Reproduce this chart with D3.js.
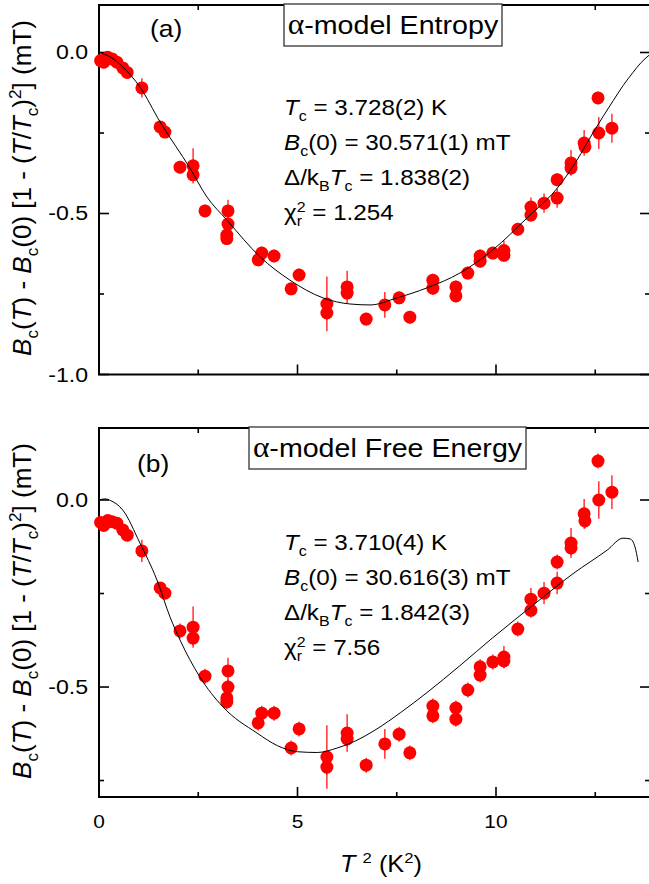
<!DOCTYPE html>
<html>
<head>
<meta charset="utf-8">
<script src="https://cdn.jsdelivr.net/npm/d3@7/dist/d3.min.js"></script>
<style>
  html, body { margin: 0; padding: 0; background: #fff; }
  svg { display: block; font-family: "Liberation Sans", Arial, sans-serif; }
</style>
</head>
<body>
<svg id="chart" width="649" height="884"></svg>
<script>
// Temperature squared (K^2) for each measurement
const T2 = [0.04, 0.12, 0.22, 0.33, 0.45, 0.60, 0.71, 1.08, 1.54, 1.66, 2.04, 2.37, 2.37, 2.67,
  3.25, 3.25, 3.22, 3.22, 4.01, 4.10, 4.41, 4.84, 5.04, 5.74, 5.74, 6.25, 6.25, 6.73, 7.20, 7.56,
  7.83, 8.41, 8.41, 8.99, 8.99, 9.29, 9.60, 9.60, 9.92, 10.20, 10.20, 10.55, 10.88, 10.88, 11.21,
  11.54, 11.54, 11.89, 11.89, 12.22, 12.24, 12.57, 12.59, 12.92];

// Deviation from parabolic law (mT), alpha-model entropy normalisation
const devEntropy = [-0.025, -0.030, -0.015, -0.020, -0.030, -0.048, -0.062, -0.110, -0.231, -0.247,
  -0.356, -0.352, -0.380, -0.492, -0.492, -0.533, -0.567, -0.578, -0.644, -0.623, -0.632, -0.734,
  -0.691, -0.781, -0.809, -0.728, -0.747, -0.828, -0.784, -0.762, -0.822, -0.707, -0.732, -0.728,
  -0.756, -0.685, -0.632, -0.648, -0.623, -0.615, -0.630, -0.549, -0.480, -0.505, -0.468, -0.452,
  -0.395, -0.343, -0.359, -0.281, -0.293, -0.141, -0.250, -0.235];

// Deviation from parabolic law (mT), alpha-model free-energy normalisation
const devFree = [-0.060, -0.068, -0.055, -0.058, -0.062, -0.080, -0.094, -0.136, -0.235, -0.249,
  -0.350, -0.340, -0.369, -0.471, -0.457, -0.500, -0.529, -0.540, -0.596, -0.570, -0.570, -0.663,
  -0.612, -0.687, -0.714, -0.623, -0.639, -0.709, -0.652, -0.626, -0.676, -0.551, -0.577, -0.556,
  -0.586, -0.508, -0.446, -0.468, -0.433, -0.420, -0.430, -0.345, -0.265, -0.295, -0.249, -0.222,
  -0.166, -0.115, -0.128, -0.037, -0.056, 0.104, 0.000, 0.021];

// Uncertainty of each point (mT)
const errDev = [0.015, 0.015, 0.015, 0.015, 0.015, 0.015, 0.015, 0.030, 0.015, 0.015,
  0.020, 0.055, 0.020, 0.020, 0.035, 0.020, 0.020, 0.020, 0.020, 0.020, 0.020, 0.020,
  0.020, 0.085, 0.020, 0.050, 0.020, 0.020, 0.040, 0.020, 0.020, 0.020, 0.020, 0.020,
  0.020, 0.020, 0.020, 0.020, 0.020, 0.030, 0.020, 0.020, 0.030, 0.020, 0.030, 0.030,
  0.020, 0.040, 0.020, 0.040, 0.020, 0.020, 0.050, 0.045];

// Fitted alpha-model curves
const fitEntropyX = [0, 0.3, 0.6, 1.03, 1.54, 2.29, 2.72, 3.22, 4.06, 4.81, 5.64, 6.32, 6.83,
  7.51, 8.26, 9.09, 9.92, 10.78, 11.61, 12.04, 12.44, 12.95, 13.2, 13.45, 13.65, 13.86];
const fitEntropyY = [0, -0.015, -0.045, -0.107, -0.216, -0.359, -0.449, -0.520, -0.635, -0.707,
  -0.762, -0.781, -0.784, -0.762, -0.731, -0.685, -0.613, -0.514, -0.411, -0.334, -0.250, -0.150,
  -0.103, -0.062, -0.032, -0.008];

const fitFreeX = [0, 0.15, 0.3, 0.6, 1.03, 1.46, 1.79, 2.04, 2.54, 3.12, 3.98, 4.5, 5.0, 5.5,
  6.0, 6.5, 7.0, 7.6, 8.26, 9.09, 9.92, 10.5, 11.11, 11.94, 12.8, 13.2, 13.38, 13.5, 13.58];
const fitFreeY = [0, 0.003, -0.002, -0.027, -0.115, -0.214, -0.313, -0.374, -0.473, -0.553,
  -0.623, -0.657, -0.673, -0.675, -0.663, -0.642, -0.612, -0.568, -0.515, -0.443, -0.368, -0.318,
  -0.266, -0.197, -0.134, -0.102, -0.104, -0.125, -0.166];

const xTicksMajor = [0, 5, 10];
const xTicksMinor = [2.5, 7.5, 12.5];

const svg = d3.select("#chart");
const RED = "#ff0000";
const SX = 1.1;   // horizontal glyph stretch of the lettering
const SERIF = "'Liberation Serif', 'Times New Roman', serif";

// Plain text, slightly widened around its anchor point
function stext(parent, x, y, str, size, anchor) {
  const g = parent.append("g").attr("transform", `translate(${x},${y}) scale(${SX},1)`);
  g.append("text").attr("font-size", size).attr("text-anchor", anchor || "start").text(str);
  return g;
}

// Lay out a line of mixed-style text, segment by segment
function richText(g, x, y, segs, size, anchor, sx) {
  const grp = g.append("g");
  let cx = 0;
  segs.forEach(s => {
    const fs = (s.sub || s.sup || s.stack) ? size * 0.66 : size;
    if (s.stack) {
      const a = grp.append("text").attr("x", cx).attr("y", -size * 0.38)
        .attr("font-size", fs).text(s.stack[0]);
      const b = grp.append("text").attr("x", cx).attr("y", size * 0.28)
        .attr("font-size", fs).text(s.stack[1]);
      cx += Math.max(a.node().getComputedTextLength(), b.node().getComputedTextLength());
      return;
    }
    const dy = s.sub ? size * 0.28 : s.sup ? -size * 0.38 : 0;
    const t = grp.append("text").attr("x", cx).attr("y", dy)
      .attr("font-size", s.serif ? fs * 1.1 : fs)
      .attr("font-style", s.i ? "italic" : null)
      .attr("font-family", s.serif ? SERIF : null)
      .style("white-space", "pre")
      .text(s.t);
    cx += t.node().getComputedTextLength();
  });
  const k = sx || 1;
  const off = anchor === "middle" ? -cx * k / 2 : 0;
  grp.attr("transform", `translate(${x + off},${y}) scale(${k},1)`);
  return grp;
}

function panel(opts) {
  const { left, right, top, bottom, yDomain, yMajor, yMinor, dev, fitX, fitY, showXLabels } = opts;
  const x = d3.scaleLinear().domain([0, (right - left) / 39.7]).range([left, right]);
  const y = d3.scaleLinear().domain(yDomain).range([bottom, top]);
  const g = svg.append("g");

  // frame
  g.append("rect").attr("x", left).attr("y", top)
    .attr("width", right - left).attr("height", bottom - top)
    .attr("fill", "none").attr("stroke", "#000").attr("stroke-width", 2);

  // inward ticks on all four sides
  const tk = g.append("g").attr("stroke", "#000").attr("stroke-width", 1.6);
  const xt = xTicksMajor.map(v => [v, 10]).concat(xTicksMinor.map(v => [v, 5]));
  xt.forEach(([v, len]) => {
    tk.append("line").attr("x1", x(v)).attr("x2", x(v)).attr("y1", bottom).attr("y2", bottom - len);
    tk.append("line").attr("x1", x(v)).attr("x2", x(v)).attr("y1", top).attr("y2", top + len);
  });
  const yt = yMajor.map(v => [v, 10]).concat(yMinor.map(v => [v, 5]));
  yt.forEach(([v, len]) => {
    tk.append("line").attr("x1", left).attr("x2", left + len).attr("y1", y(v)).attr("y2", y(v));
    tk.append("line").attr("x1", right).attr("x2", right - len).attr("y1", y(v)).attr("y2", y(v));
  });

  // y tick labels
  yMajor.forEach(v => stext(g, left - 11, y(v) + 7, d3.format(".1f")(v).replace("\u2212", "-"), 21, "end"));

  if (showXLabels) {
    xTicksMajor.forEach(v => stext(g, x(v), bottom + 31, String(v), 19, "middle"));
  }

  // data: error bars then points
  const pts = T2.map((t, i) => ({ t, v: dev[i], e: errDev[i] }));
  g.append("g").selectAll("line").data(pts).enter().append("line")
    .attr("x1", d => x(d.t)).attr("x2", d => x(d.t))
    .attr("y1", d => y(d.v - d.e)).attr("y2", d => y(d.v + d.e))
    .attr("stroke", RED).attr("stroke-width", 1.2);
  g.append("g").selectAll("circle").data(pts).enter().append("circle")
    .attr("cx", d => x(d.t)).attr("cy", d => y(d.v)).attr("r", 6.5)
    .attr("fill", RED);

  // fitted curve
  const line = d3.line().x(d => x(d[0])).y(d => y(d[1])).curve(d3.curveMonotoneX);
  g.append("path").datum(fitX.map((v, i) => [v, fitY[i]]))
    .attr("d", line).attr("fill", "none").attr("stroke", "#000").attr("stroke-width", 1);

  return { g, x, y };
}

// (a) entropy panel
panel({ left: 99, right: 650, top: 5, bottom: 374.5,
  yDomain: [-1.0, 0.1475], yMajor: [0, -0.5, -1.0], yMinor: [-0.25, -0.75],
  dev: devEntropy, fitX: fitEntropyX, fitY: fitEntropyY, showXLabels: false });

// (b) free-energy panel
panel({ left: 99, right: 650, top: 428, bottom: 797,
  yDomain: [-0.794, 0.1925], yMajor: [0, -0.5], yMinor: [-0.25, -0.75],
  dev: devFree, fitX: fitFreeX, fitY: fitFreeY, showXLabels: true });

// panel tags and model boxes
function titleBox(x0, y0, w, h, label) {
  svg.append("rect").attr("x", x0).attr("y", y0).attr("width", w).attr("height", h)
    .attr("fill", "#fff").attr("stroke", "#333").attr("stroke-width", 1.3);
  richText(svg, x0 + w / 2, y0 + h / 2 + 9,
    [{ t: "\u03b1", serif: true }, { t: label }], 26, "middle", SX);
}
stext(svg, 150, 37, "(a)", 24);
stext(svg, 137, 472, "(b)", 24);
titleBox(284, 4, 218, 42, "-model Entropy");
titleBox(249, 427, 277, 42, "-model Free Energy");

// fit parameters
function params(x0, y0, lines) {
  lines.forEach((segs, i) => richText(svg, x0, y0 + i * 35, segs, 22, "start", SX));
}
params(284, 115, [
  [{ t: "T", i: true }, { t: "c", sub: true }, { t: " = 3.728(2) K" }],
  [{ t: "B", i: true }, { t: "c", sub: true }, { t: "(0) = 30.571(1) mT" }],
  [{ t: "\u0394/k" }, { t: "B", sub: true }, { t: "T", i: true }, { t: "c", sub: true }, { t: " = 1.838(2)" }],
  [{ t: "\u03c7" }, { stack: ["2", "r"] }, { t: " = 1.254" }]
]);
params(284, 550, [
  [{ t: "T", i: true }, { t: "c", sub: true }, { t: " = 3.710(4) K" }],
  [{ t: "B", i: true }, { t: "c", sub: true }, { t: "(0) = 30.616(3) mT" }],
  [{ t: "\u0394/k" }, { t: "B", sub: true }, { t: "T", i: true }, { t: "c", sub: true }, { t: " = 1.842(3)" }],
  [{ t: "\u03c7" }, { stack: ["2", "r"] }, { t: " = 7.56" }]
]);

// axis titles
const ySegs = [{ t: "B", i: true }, { t: "c", sub: true }, { t: "(" }, { t: "T", i: true },
  { t: ") - " }, { t: "B", i: true }, { t: "c", sub: true }, { t: "(0) [1 - (" },
  { t: "T", i: true }, { t: "/" }, { t: "T", i: true }, { t: "c", sub: true }, { t: ")" },
  { t: "2", sup: true }, { t: "] (mT)" }];
[188, 611].forEach(cy => {
  const g = svg.append("g").attr("transform", `translate(31,${cy}) rotate(-90)`);
  richText(g, 0, 0, ySegs, 26, "middle");
});
richText(svg, 381, 872, [{ t: "T", i: true }, { t: " " }, { t: "2", sup: true }, { t: " (K" },
  { t: "2", sup: true }, { t: ")" }], 23, "middle", SX);
</script>
</body>
</html>
